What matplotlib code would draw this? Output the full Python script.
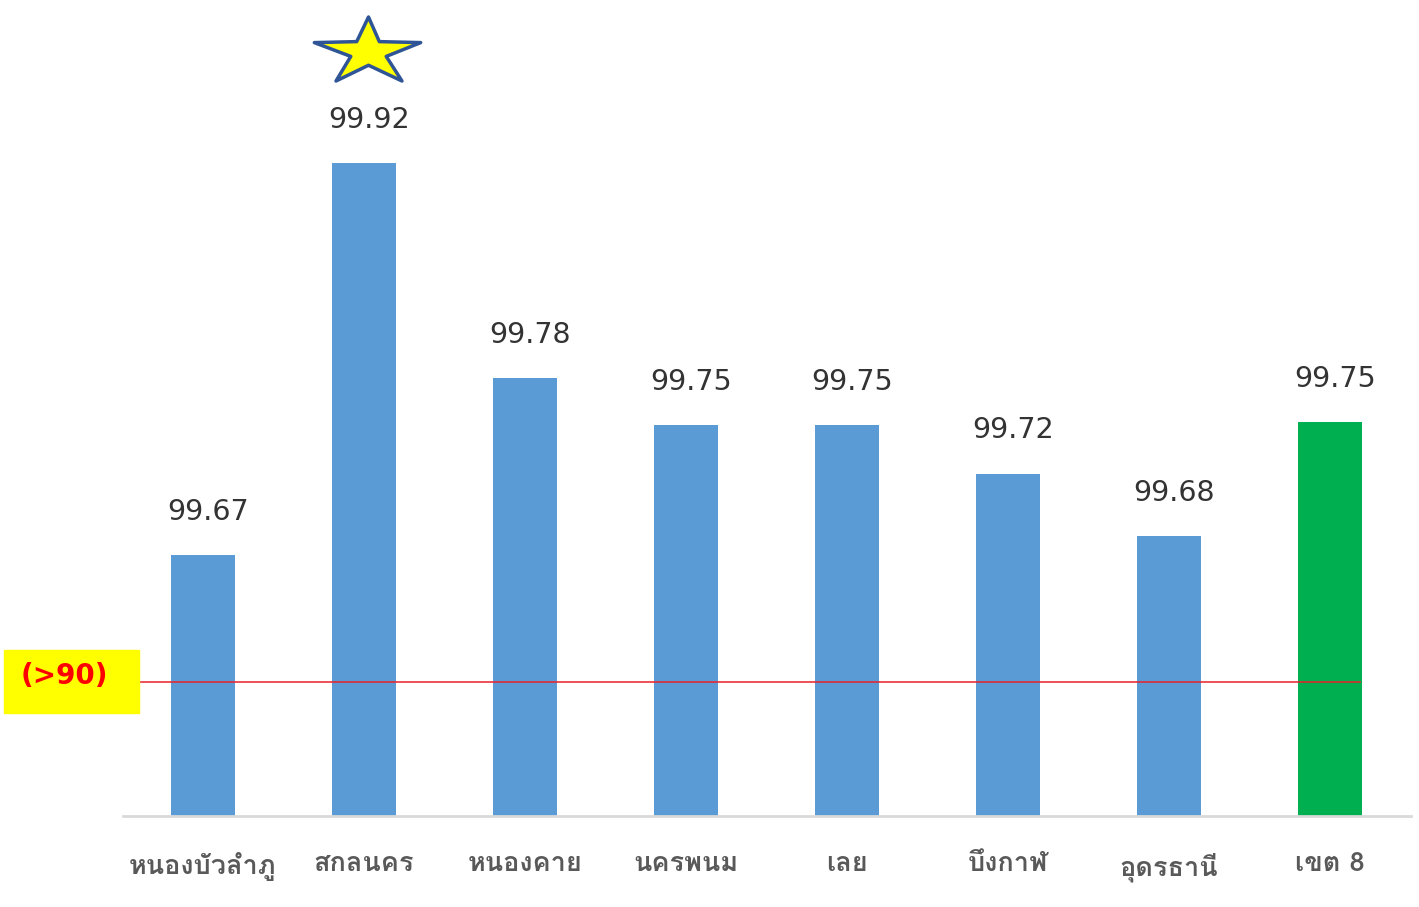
import numpy as np
import matplotlib.pyplot as plt
from matplotlib import font_manager as fm
from matplotlib.ft2font import FT2Font
from matplotlib.path import Path
from matplotlib.patches import Rectangle

# ข้อมูล
districts = ['หนองบัวลำภู', 'สกลนคร', 'หนองคาย', 'นครพนม', 'เลย', 'บึงกาฬ', 'อุดรธานี', 'เขต 8']
values = [99.670, 99.920, 99.783, 99.753, 99.753, 99.722, 99.682, 99.755]
labels = ['99.67', '99.92', '99.78', '99.75', '99.75', '99.72', '99.68', '99.75']
colors = ['#5B9BD5'] * 7 + ['#00B050']
threshold = 99.589
threshold_label = '(>90)'
star_index = 1

# หาฟอนต์ที่มีอักษรไทย
thai_font = None
for f in fm.fontManager.ttflist:
    try:
        if 0x0E01 in FT2Font(f.fname).get_charmap():
            thai_font = f.name
            break
    except Exception:
        pass
families = [thai_font, 'DejaVu Sans'] if thai_font else ['DejaVu Sans']
plt.rcParams['font.family'] = families

fig = plt.figure(figsize=(14.19, 9.07), dpi=100)
ax = fig.add_axes([122.5 / 1419, 1 - 816 / 907, 1288 / 1419, 816 / 907])

x = np.arange(len(values))
ax.bar(x, values, width=0.40, color=colors, bottom=0)
ax.set_xlim(-0.5, len(values) - 0.5)
ymin = 99.5036
ax.set_ylim(ymin, ymin + 816 / 1568)

for xi, v, t in zip(x, values, labels):
    ax.annotate(t, (xi, v), xytext=(4, 21), textcoords='offset points',
                ha='center', va='bottom', fontsize=20.5, color='#333333',
                family='DejaVu Sans')

# เส้นเกณฑ์
ax.plot([-0.398, 7.186], [threshold, threshold], color='#E8202A', lw=1.1)

# ดาว
star_px = np.array([[0, 33], [11, 8], [53, 7], [18, -7], [34, -32], [0, -16],
                    [-33, -32], [-18, -7], [-55, 7], [-12, 8], [0, 33]], dtype=float)
codes = [Path.MOVETO] + [Path.LINETO] * 9 + [Path.CLOSEPOLY]
star = Path(star_px, codes)
ax.plot(star_index + 0.025, values[star_index] + 0.0725, marker=star, markersize=78,
        markerfacecolor='#FFFF00', markeredgecolor='#2F5597', markeredgewidth=2.5,
        clip_on=False)

ax.set_xticks(x)
ax.set_xticklabels(districts, fontsize=19.5, color='#595959', fontweight='bold')
ax.tick_params(axis='x', length=0, pad=26)
ax.set_yticks([])
for s in ['top', 'right', 'left']:
    ax.spines[s].set_visible(False)
ax.spines['bottom'].set_color('#D9D9D9')
ax.spines['bottom'].set_linewidth(2)

# กล่องเหลือง
fig.patches.append(Rectangle((4 / 1419, 1 - 713 / 907), 135 / 1419, 63 / 907,
                             transform=fig.transFigure, color='#FFFF00'))
fig.text(64 / 1419, 1 - 676 / 907, threshold_label, ha='center', va='center',
         fontsize=20, fontweight='bold', color='#FF0000', family='DejaVu Sans')

fig.savefig('out.png', dpi=100)
